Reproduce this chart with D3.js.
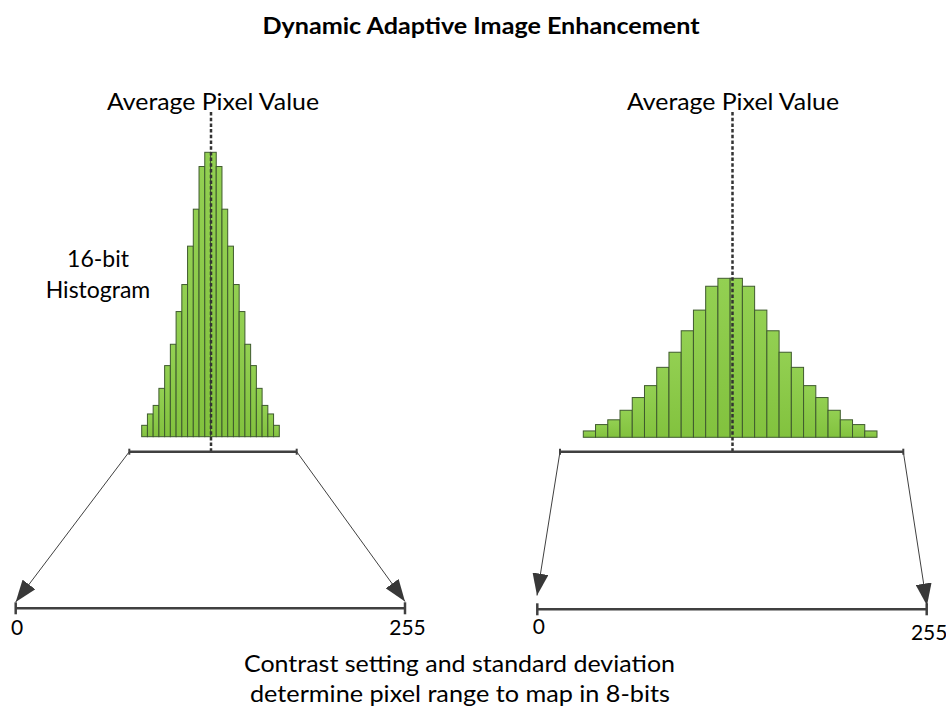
<!DOCTYPE html>
<html>
<head>
<meta charset="utf-8">
<script src="https://cdn.jsdelivr.net/npm/d3@7"></script>
<style>
  body { margin: 0; background: #fff; }
  text { font-family: Lato, "Open Sans", sans-serif; fill: #000; }
</style>
</head>
<body>
<svg id="chart" width="946" height="711"></svg>
<script>
// histogram bins (same shape for both panels, right one is stretched)
const bins = d3.range(1, 25);
const counts = [4, 8, 11, 17, 25, 32.5, 44, 53.5, 67, 80, 95, 100,
                100, 95, 80, 67, 53.5, 44, 32.5, 25, 17, 11, 8, 4];
const outputTicks = [0, 255];
const titleText = "Dynamic Adaptive Image Enhancement";
const meanLabel = "Average Pixel Value";
const histLabel = ["16-bit", "Histogram"];
const footLines = ["Contrast setting and standard deviation",
                   "determine pixel range to map in 8-bits"];

const svg = d3.select("#chart");
const ink = "#404040";

// layout of the two panels
const panels = [
    {bx: [141.7, 279.3], by: [436.7, 152.3], mean: 211, meanTop: 112,
     range: [129.3, 296.7], rangeY: 451.7,
     out: [15.7, 405], outY: 608.3, tips: [[15.7, 602], [405, 601.5]],
     labelY: [635, 635], labelX: 213},
    {bx: [583.3, 877], by: [437.3, 278.3], mean: 732.5, meanTop: 112,
     range: [560, 903.3], rangeY: 451.7,
     out: [537.3, 926.7], outY: 609.3, tips: [[537, 595.5], [927, 605.5]],
     labelY: [633.5, 640], labelX: 733}
];

const defs = svg.append("defs");
defs.append("marker")
    .attr("id", "head")
    .attr("viewBox", "0 0 22 16")
    .attr("refX", 22).attr("refY", 8)
    .attr("markerWidth", 22).attr("markerHeight", 16)
    .attr("markerUnits", "userSpaceOnUse")
    .attr("orient", "auto")
  .append("path")
    .attr("d", "M0,0L22,8L0,16Z")
    .attr("fill", "#383838");

const grad = defs.append("linearGradient")
    .attr("id", "barFill").attr("x1", 0).attr("x2", 0).attr("y1", 0).attr("y2", 1);
grad.append("stop").attr("offset", "0%").attr("stop-color", "#93d052");
grad.append("stop").attr("offset", "100%").attr("stop-color", "#82c23e");

// title
svg.append("text")
    .attr("x", 481).attr("y", 34)
    .attr("text-anchor", "middle")
    .attr("font-size", 23).attr("font-weight", "bold")
    .attr("textLength", 437).attr("lengthAdjust", "spacingAndGlyphs")
    .text(titleText);

panels.forEach(p => {
    const g = svg.append("g");
    const x = d3.scaleBand().domain(bins).range(p.bx).padding(0);
    const y = d3.scaleLinear().domain([0, 100]).range(p.by);

    g.selectAll("rect.bar")
        .data(counts)
        .join("rect")
        .attr("class", "bar")
        .attr("x", (d, i) => x(bins[i]))
        .attr("y", d => y(d))
        .attr("width", x.bandwidth())
        .attr("height", d => y(0) - y(d))
        .attr("fill", "url(#barFill)")
        .attr("stroke", "#3f5a2e")
        .attr("stroke-width", 1);

    // average pixel value marker
    g.append("line")
        .attr("x1", p.mean).attr("x2", p.mean)
        .attr("y1", p.meanTop).attr("y2", p.rangeY)
        .attr("stroke", "#333").attr("stroke-width", 2.5)
        .attr("stroke-dasharray", "3.5,2.2");

    g.append("text")
        .attr("x", p.labelX).attr("y", 109.5)
        .attr("text-anchor", "middle")
        .attr("font-size", 23)
        .attr("textLength", 212).attr("lengthAdjust", "spacingAndGlyphs")
        .text(meanLabel);

    // selected input range
    g.append("line")
        .attr("x1", p.range[0]).attr("x2", p.range[1])
        .attr("y1", p.rangeY).attr("y2", p.rangeY)
        .attr("stroke", ink).attr("stroke-width", 2.5);
    g.selectAll("line.rtick")
        .data(p.range)
        .join("line")
        .attr("class", "rtick")
        .attr("x1", d => d).attr("x2", d => d)
        .attr("y1", p.rangeY - 3).attr("y2", p.rangeY + 3)
        .attr("stroke", ink).attr("stroke-width", 2);

    // 8-bit output axis
    const out = d3.scaleLinear().domain([0, 255]).range(p.out);
    g.append("line")
        .attr("x1", out(0)).attr("x2", out(255))
        .attr("y1", p.outY).attr("y2", p.outY)
        .attr("stroke", ink).attr("stroke-width", 2.5);
    g.selectAll("line.otick")
        .data(outputTicks)
        .join("line")
        .attr("class", "otick")
        .attr("x1", d => out(d)).attr("x2", d => out(d))
        .attr("y1", p.outY - 6).attr("y2", p.outY + 6)
        .attr("stroke", ink).attr("stroke-width", 2.5);
    g.selectAll("text.olab")
        .data(outputTicks)
        .join("text")
        .attr("class", "olab")
        .attr("x", d => out(d) + (d === 0 ? 1.5 : 2.5))
        .attr("y", (d, i) => p.labelY[i])
        .attr("text-anchor", "middle")
        .attr("font-size", 21)
        .text(d => d);

    // mapping arrows
    p.range.forEach((rx, i) => {
        g.append("line")
            .attr("x1", rx).attr("y1", p.rangeY)
            .attr("x2", p.tips[i][0]).attr("y2", p.tips[i][1])
            .attr("stroke", ink).attr("stroke-width", 1)
            .attr("marker-end", "url(#head)");
    });
});

// 16-bit histogram label
svg.selectAll("text.hlab")
    .data(histLabel)
    .join("text")
    .attr("class", "hlab")
    .attr("x", 98).attr("y", (d, i) => 266.5 + i * 31.8)
    .attr("text-anchor", "middle")
    .attr("font-size", 23)
    .text(d => d);

svg.selectAll("text.foot")
    .data(footLines)
    .join("text")
    .attr("class", "foot")
    .attr("x", (d, i) => i ? 460 : 459.5)
    .attr("y", (d, i) => 672.3 + i * 30)
    .attr("text-anchor", "middle")
    .attr("font-size", 23)
    .attr("textLength", (d, i) => i ? 420 : 431)
    .attr("lengthAdjust", "spacingAndGlyphs")
    .text(d => d);
</script>
</body>
</html>
